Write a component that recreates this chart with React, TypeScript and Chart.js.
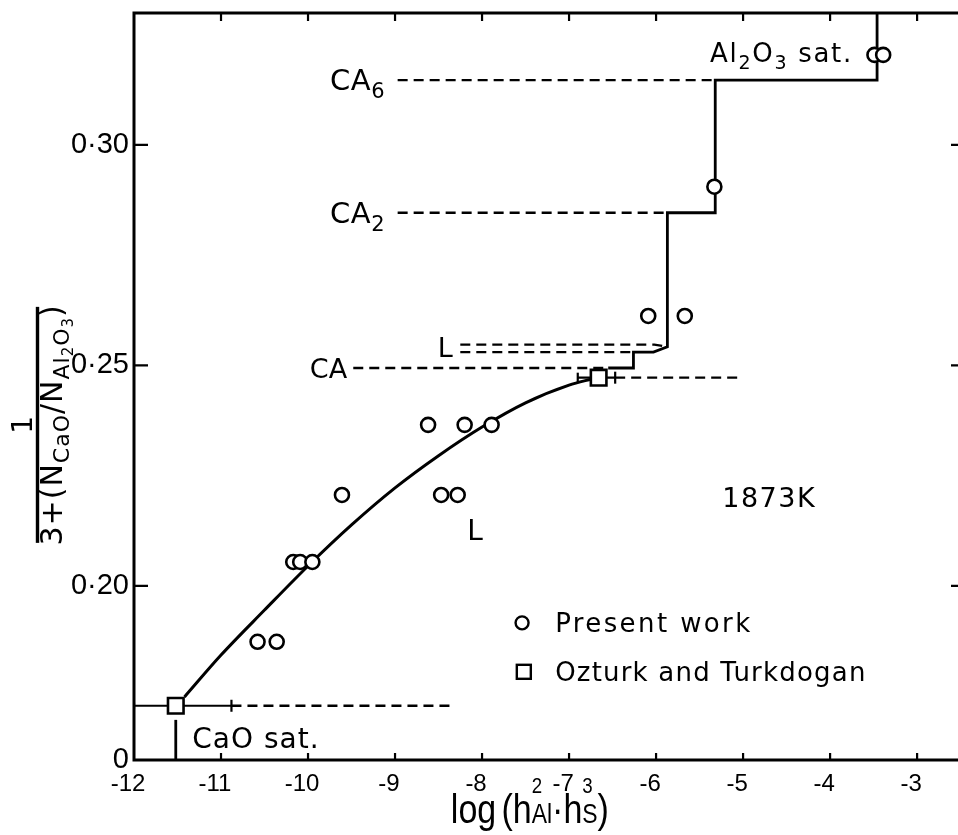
import React, { useEffect, useRef } from 'react';
import { Chart, registerables } from 'chart.js';

Chart.register(...registerables);

// ---------- axis ranges & ticks ----------
const X_MIN = -12;
const X_MAX = -2.53;
const Y_MIN = 0.1605;
const Y_MAX = 0.3299;
const xTicks = [-12, -11, -10, -9, -8, -7, -6, -5, -4, -3];
const yTicks = [0.2, 0.25, 0.3];

// ---------- data ----------
const presentX = [-3.49, -3.39, -5.33, -6.09, -5.67, -8.62, -8.2, -7.89, -9.61, -8.47, -8.28, -10.17, -10.09, -9.95, -10.58, -10.36];
const presentY = [0.3204, 0.3204, 0.2905, 0.2612, 0.2612, 0.2365, 0.2365, 0.2365, 0.2206, 0.2206, 0.2206, 0.2054, 0.2054, 0.2054, 0.1873, 0.1873];

const ozturkX = [-11.52, -6.66];
const ozturkY = [0.1728, 0.2472];

const curveX = [-11.42, -11, -10.5, -10, -9.5, -9, -8.5, -8, -7.5, -7, -6.72];
const curveY = [0.1748, 0.1843, 0.1945, 0.2045, 0.2138, 0.2222, 0.2295, 0.236, 0.2415, 0.2455, 0.247];

const boundaryX = [-3.46, -3.46, -5.32, -5.32, -5.87, -5.87, -6.03, -6.26, -6.26, -6.55];
const boundaryY = [Y_MAX, 0.3147, 0.3147, 0.2846, 0.2846, 0.2542, 0.253, 0.253, 0.2494, 0.2494];

const ca6X = [-8.97, -5.32];
const ca6Y = [0.3147, 0.3147];
const ca2X = [-8.97, -5.87];
const ca2Y = [0.2846, 0.2846];
const caX = [-9.48, -6.55];
const caY = [0.2494, 0.2494];
const l1X = [-8.25, -6.02, -5.87];
const l1Y = [0.2547, 0.2547, 0.2542];
const l2X = [-8.25, -6.26];
const l2Y = [0.253, 0.253];
const caoExtX = [-10.88, -8.31];
const caoExtY = [0.1728, 0.1728];
const ozExtX = [-6.47, -5.03];
const ozExtY = [0.2472, 0.2472];
const caoErrX = [-12, -10.88];
const caoErrY = [0.1728, 0.1728];
const ozErrX = [-6.9, -6.47];
const ozErrY = [0.2472, 0.2472];
const caoVertX = [-11.52, -11.52];
const caoVertY = [Y_MIN, 0.1696];

const zip = (xs: number[], ys: number[]) => xs.map((x, i) => ({ x, y: ys[i] }));

const FONT = '"DejaVu Sans", sans-serif';
const NUMFONT = '"Liberation Sans", sans-serif';

type Seg = { t: string; s: number; dy?: number; over?: { t: string; s: number; dy: number } };

function segWidth(ctx: CanvasRenderingContext2D, g: Seg, family: string) {
  ctx.font = `${g.s}px ${family}`;
  let w = ctx.measureText(g.t).width;
  if (g.over) {
    ctx.font = `${g.over.s}px ${family}`;
    w = Math.max(w, ctx.measureText(g.over.t).width);
  }
  return w;
}

function drawRich(
  ctx: CanvasRenderingContext2D,
  segs: Seg[],
  x: number,
  y: number,
  align: 'left' | 'center' | 'right',
  family: string,
  spacing: number,
  sx = 1
) {
  ctx.save();
  (ctx as any).letterSpacing = `${spacing}px`;
  ctx.textAlign = 'left';
  ctx.textBaseline = 'alphabetic';
  let total = 0;
  for (const g of segs) total += segWidth(ctx, g, family) * sx;
  let cx = align === 'left' ? x : align === 'center' ? x - total / 2 : x - total;
  for (const g of segs) {
    const w = segWidth(ctx, g, family) * sx;
    ctx.save();
    ctx.translate(cx, y);
    ctx.scale(sx, 1);
    ctx.font = `${g.s}px ${family}`;
    ctx.fillText(g.t, 0, g.dy || 0);
    if (g.over) {
      ctx.font = `${g.over.s}px ${family}`;
      ctx.fillText(g.over.t, 0, g.over.dy);
    }
    ctx.restore();
    cx += w;
  }
  ctx.restore();
}

const decor = {
  id: 'decor',
  afterDraw(chart: any) {
    const { ctx, chartArea: a } = chart;
    const xs = chart.scales.x;
    const ys = chart.scales.y;
    const px = (v: number) => xs.getPixelForValue(v);
    const py = (v: number) => ys.getPixelForValue(v);
    ctx.save();
    ctx.strokeStyle = '#000';
    ctx.fillStyle = '#000';

    // frame
    ctx.lineWidth = 3;
    ctx.beginPath();
    ctx.moveTo(a.right + 2, a.top);
    ctx.lineTo(a.left, a.top);
    ctx.lineTo(a.left, a.bottom);
    ctx.lineTo(a.right + 2, a.bottom);
    ctx.stroke();

    // inward ticks
    ctx.lineWidth = 2.2;
    ctx.beginPath();
    for (const v of xTicks) {
      if (v === X_MIN) continue;
      const X = px(v);
      ctx.moveTo(X, a.bottom);
      ctx.lineTo(X, a.bottom - 7);
      ctx.moveTo(X, a.top);
      ctx.lineTo(X, a.top + 8);
    }
    for (const v of yTicks) {
      const Y = py(v);
      ctx.moveTo(a.left, Y);
      ctx.lineTo(a.left + 14, Y);
      ctx.moveTo(a.right, Y);
      ctx.lineTo(a.right - 7, Y);
    }
    ctx.stroke();

    // annotations
    drawRich(ctx, [{ t: 'CA', s: 29 }, { t: '6', s: 21, dy: 8 }], px(-9.115), py(0.3147) + 10, 'right', FONT, 0.5);
    drawRich(ctx, [{ t: 'CA', s: 29 }, { t: '2', s: 21, dy: 8 }], px(-9.115), py(0.2846) + 10, 'right', FONT, 0.5);
    drawRich(ctx, [{ t: 'CA', s: 27 }], px(-9.55), py(0.2494) + 10, 'right', FONT, 0);
    drawRich(ctx, [{ t: 'L', s: 27 }], px(-8.51), py(0.2542) + 10, 'left', FONT, 0);
    drawRich(ctx, [{ t: 'L', s: 28 }], px(-8.08), py(0.2127) + 10, 'center', FONT, 0);
    drawRich(ctx, [{ t: '1873K', s: 27 }], px(-5.24), py(0.2202) + 10, 'left', FONT, 1.5);
    drawRich(
      ctx,
      [{ t: 'Al', s: 26 }, { t: '2', s: 19, dy: 7 }, { t: 'O', s: 26 }, { t: '3', s: 19, dy: 7 }, { t: ' sat.', s: 26 }],
      px(-5.38), py(0.3209) + 9, 'left', FONT, 1.7
    );
    drawRich(ctx, [{ t: 'CaO sat.', s: 28 }], px(-11.33), py(0.1655) + 10, 'left', FONT, 1);

    // legend
    ctx.lineWidth = 2.4;
    ctx.beginPath();
    ctx.arc(px(-7.54), py(0.1916), 6.5, 0, Math.PI * 2);
    ctx.stroke();
    ctx.strokeRect(px(-7.52) - 7, py(0.1805) - 7, 14, 14);
    drawRich(ctx, [{ t: 'Present work', s: 26 }], px(-7.16), py(0.1916) + 9.5, 'left', FONT, 2.4);
    drawRich(ctx, [{ t: 'Ozturk and Turkdogan', s: 26 }], px(-7.16), py(0.1805) + 9.5, 'left', FONT, 1.2);

    // x axis title
    drawRich(
      ctx,
      [
        { t: 'log', s: 40 },
        { t: ' ', s: 22 },
        { t: '(h', s: 40 },
        { t: 'Al', s: 27, dy: 0, over: { t: '2', s: 22, dy: -30 } },
        { t: '·h', s: 40 },
        { t: 'S', s: 27, dy: 0, over: { t: '3', s: 22, dy: -30 } },
        { t: ')', s: 40 },
      ],
      px(-7.45), 823, 'center', NUMFONT, 0, 0.85
    );

    // y axis title (rotated fraction)
    ctx.save();
    ctx.translate(37.5, py(0.2365));
    ctx.rotate(-Math.PI / 2);
    ctx.fillRect(-118, -1.7, 236, 3.4);
    drawRich(ctx, [{ t: '1', s: 28 }], 0, -5.5, 'center', FONT, 0);
    drawRich(
      ctx,
      [
        { t: '3+(N', s: 30 },
        { t: 'CaO', s: 22, dy: 7 },
        { t: '/N', s: 30 },
        { t: 'Al', s: 22, dy: 7 },
        { t: '2', s: 15, dy: 11 },
        { t: 'O', s: 22, dy: 7 },
        { t: '3', s: 15, dy: 11 },
        { t: ')', s: 30 },
      ],
      0, 24.5, 'center', FONT, 1
    );
    ctx.restore();

    ctx.restore();
  },
};

export default function App() {
  const ref = useRef<HTMLCanvasElement>(null);
  useEffect(() => {
    const line = (xs: number[], ys: number[], dashed: boolean, width = 2.5) => ({
      data: zip(xs, ys),
      showLine: true,
      pointRadius: 0,
      borderColor: '#000',
      borderWidth: width,
      borderDash: dashed ? [10, 6] : [],
      tension: 0,
      fill: false,
    });
    const errBar = (xs: number[], ys: number[], radii: number[]) => ({
      data: zip(xs, ys),
      showLine: true,
      borderColor: '#000',
      borderWidth: 2.2,
      pointStyle: 'line',
      rotation: 90,
      pointRadius: radii,
      pointBorderWidth: 2.2,
      pointBorderColor: '#000',
      tension: 0,
    });
    const chart = new Chart(ref.current as HTMLCanvasElement, {
      type: 'scatter',
      data: {
        datasets: [
          {
            label: 'Present work',
            data: zip(presentX, presentY),
            pointStyle: 'circle',
            pointRadius: 7,
            borderWidth: 2.6,
            borderColor: '#000',
            backgroundColor: '#fff',
          },
          {
            label: 'Ozturk and Turkdogan',
            data: zip(ozturkX, ozturkY),
            pointStyle: 'rect',
            pointRadius: 11,
            borderWidth: 2.6,
            borderColor: '#000',
            backgroundColor: '#fff',
          },
          { ...line(curveX, curveY, false, 3), cubicInterpolationMode: 'monotone' },
          line(boundaryX, boundaryY, false, 2.8),
          line(ca6X, ca6Y, true, 2.3),
          line(ca2X, ca2Y, true, 2.3),
          line(caX, caY, true, 2.3),
          line(l1X, l1Y, true, 2.3),
          line(l2X, l2Y, true, 2.3),
          line(caoExtX, caoExtY, true, 2.3),
          line(ozExtX, ozExtY, true, 2.3),
          line(caoVertX, caoVertY, false, 2.8),
          errBar(caoErrX, caoErrY, [3, 6]),
          errBar(ozErrX, ozErrY, [5, 6]),
        ] as any,
      },
      options: {
        animation: false,
        responsive: true,
        maintainAspectRatio: false,
        devicePixelRatio: 1,
        layout: { autoPadding: false, padding: { top: 13, left: 0, right: 0, bottom: 0 } },
        plugins: { legend: { display: false }, tooltip: { enabled: false } },
        events: [],
        scales: {
          x: {
            type: 'linear',
            min: X_MIN,
            max: X_MAX,
            grid: { display: false, drawTicks: false },
            border: { display: false },
            afterBuildTicks: (s: any) => {
              s.ticks = xTicks.map((v) => ({ value: v }));
            },
            afterFit: (s: any) => {
              s.height = 75;
              s.paddingLeft = 0;
              s.paddingRight = 0;
            },
            ticks: {
              autoSkip: false,
              maxRotation: 0,
              padding: 10,
              color: '#000',
              font: { family: NUMFONT, size: 24 },
              // minus sign hangs to the left of the digits, which stay centred on the tick
              callback: (v: any) => (v < 0 ? '-' + Math.abs(v) + '\u2002' : String(v)),
            },
          },
          y: {
            type: 'linear',
            min: Y_MIN,
            max: Y_MAX,
            grid: { display: false, drawTicks: false },
            border: { display: false },
            afterBuildTicks: (s: any) => {
              s.ticks = [Y_MIN, ...yTicks].map((v) => ({ value: v }));
            },
            afterFit: (s: any) => {
              s.width = 134;
              s.paddingTop = 0;
              s.paddingBottom = 0;
            },
            ticks: {
              autoSkip: false,
              padding: 5,
              color: '#000',
              font: { family: NUMFONT, size: 29 },
              callback: (v: any) => (v === Y_MIN ? '0' : Number(v).toFixed(2).replace('.', '·')),
            },
          },
        },
      } as any,
      plugins: [decor],
    });
    return () => chart.destroy();
  }, []);
  return (
    <div style={{ position: 'fixed', left: 0, top: 0, width: 958, height: 835, background: '#fff' }}>
      <canvas ref={ref} />
    </div>
  );
}
